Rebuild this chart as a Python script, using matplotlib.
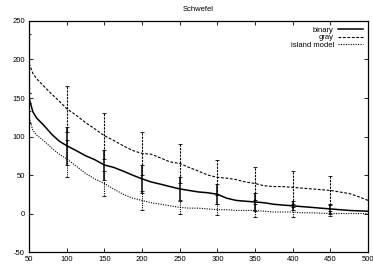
import numpy as np
import matplotlib
matplotlib.use('Agg')
import matplotlib.pyplot as plt

# generation axis (mean curves)
gen = np.array([50, 55, 60, 65, 70, 80, 90, 100, 112, 125, 137, 150, 162, 175, 187, 200,
                212, 225, 237, 250, 262, 275, 287, 300, 312, 325, 337, 350, 362, 375,
                387, 400, 412, 425, 437, 450, 462, 475, 487, 500])

binary = np.array([150, 132, 124, 119, 114, 103, 94, 88, 82, 75, 70, 63, 60, 55, 50, 45,
                   41, 38, 35, 32, 30, 28, 27, 25, 20, 17, 16, 15, 14, 12,
                   11, 10, 9, 8, 7, 6, 5, 4, 3.5, 3])
gray = np.array([195, 182, 175, 170, 165, 155, 146, 136, 128, 118, 110, 101, 95, 88, 82, 78,
                 77, 72, 67, 65, 60, 55, 50, 47, 46, 44, 41, 39, 36, 35,
                 35, 34, 33, 32, 31, 30, 28, 26, 22, 17])
island = np.array([125, 108, 102, 98, 94, 85, 77, 71, 62, 52, 45, 39, 32, 25, 20, 17,
                   14, 12, 10, 8, 7, 7, 6, 5, 5, 4, 4, 4, 3, 2,
                   2, 2, 1, 1, 0.5, 0, 0, 0, 0, 0])

# error bars every 50 generations
err_gen = [50, 100, 150, 200, 250, 300, 350, 400, 450]
err_binary = [6, 25, 20, 18, 15, 13, 12, 6, 6]
err_gray = [38, 30, 30, 28, 25, 23, 21, 21, 19]
err_island = [8, 24, 16, 12, 8, 7, 9, 7, 3]

plt.rcParams['font.family'] = ['Liberation Sans', 'DejaVu Sans']
plt.rcParams['axes.unicode_minus'] = False
fig = plt.figure(figsize=(3.73, 2.69), dpi=100)
ax = fig.add_axes([0.078, 0.063, 0.909, 0.859])

idx = np.isin(gen, err_gen)

l1, = ax.plot(gen, binary, color='black', lw=1.1, ls='-', label='binary')
l2, = ax.plot(gen, gray, color='black', lw=0.8, ls=(0, (2.5, 1.5)), label='gray')
l3, = ax.plot(gen, island, color='black', lw=0.8, ls=(0, (1, 1.2)), label='island model')

for y, e, ls, lw in [(gray, err_gray, (0, (2, 1)), 0.8),
                     (island, err_island, (0, (1, 1)), 0.8),
                     (binary, err_binary, '-', 1.1)]:
    eb = ax.errorbar(gen[idx], y[idx], yerr=e, fmt='none', ecolor='black',
                     elinewidth=lw, capsize=1.5, capthick=0.6)
    eb[2][0].set_linestyle(ls)

ax.set_xlim(50, 500)
ax.set_ylim(-50, 250)
ax.set_xticks(range(50, 501, 50))
ax.set_yticks(range(-50, 251, 50))
ax.tick_params(direction='in', length=3, width=0.6, labelsize=5.5, pad=3,
               top=True, right=True)
for s in ax.spines.values():
    s.set_linewidth(0.9)
ax.set_title('Schwefel', fontsize=5.5, pad=7)

leg = ax.legend(handles=[l1, l2, l3], loc='upper right', fontsize=5.5, frameon=False,
                markerfirst=False, handlelength=3.2, handletextpad=0.6,
                labelspacing=0.05, borderaxespad=0.3)
for t in leg.get_texts():
    t.set_ha('right')

fig.savefig('out.png', dpi=100)
